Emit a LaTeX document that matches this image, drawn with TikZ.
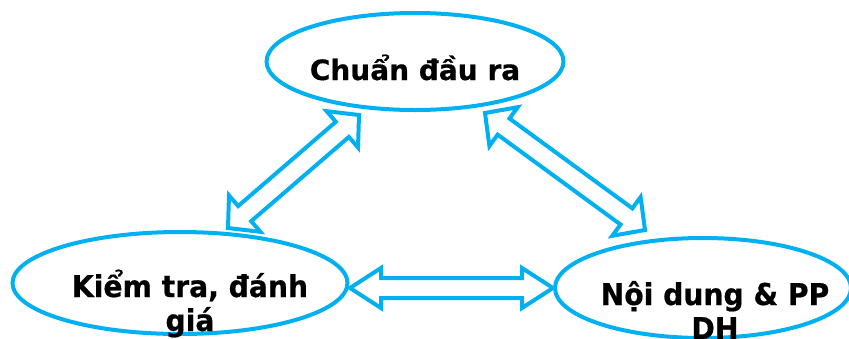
\documentclass[tikz,border=0pt]{standalone}
\usepackage{fontspec}
\setmainfont{DejaVu Sans}[BoldFeatures={FakeBold=0.6}]
\newfontfamily\narrowbold{DejaVu Sans Bold}[FakeStretch=0.94,FakeBold=0.6]
\usetikzlibrary{shapes.geometric,calc}
\definecolor{skyb}{HTML}{00B0F0}
\tikzset{
  ell/.style={draw=skyb, line width=4pt, ellipse, inner sep=0pt, fill=white},
  lbl/.style={font=\fontsize{28}{34}\selectfont\bfseries, align=center, anchor=base, inner sep=0pt},
  lblb/.style={font=\fontsize{30}{34}\narrowbold, align=center, anchor=base, inner sep=0pt},
  arrowline/.style={draw=skyb, line width=4pt, line join=miter, fill=white}
}
\newcommand\hollowarrow[5]{%
  \coordinate (ha1) at ($(#1)!#3!(#2)$);
  \coordinate (ha2) at ($(#2)!#3!(#1)$);
  \draw[arrowline] (#1) -- ($(ha1)!#4!90:(#2)$) -- ($(ha1)!#5!90:(#2)$)
    -- ($(ha2)!#5!-90:(#1)$) -- ($(ha2)!#4!-90:(#1)$) -- (#2)
    -- ($(ha2)!#4!90:(#1)$) -- ($(ha2)!#5!90:(#1)$)
    -- ($(ha1)!#5!-90:(#2)$) -- ($(ha1)!#4!-90:(#2)$) -- cycle;}
\begin{document}
\begin{tikzpicture}[x=1pt,y=-1pt]
\useasboundingbox (0,0) rectangle (849,338);
\node[ell, minimum width=297pt, minimum height=97pt] (cdr) at (415,61.5) {};
\node[ell, minimum width=335pt, minimum height=102pt] (kt) at (180,283) {};
\node[ell, minimum width=296pt, minimum height=100pt] (nd) at (703,288) {};
\node[lbl] (tcdr) at (415,80) {Chuẩn đầu ra};
\node[lblb] (tkt) at (190,331) {Kiểm tra, đánh\\giá};
\node[lblb] (tnd) at (715,339) {Nội dung \& PP\\DH};
\coordinate (a1) at (228,228);
\coordinate (a2) at (359,115);
\coordinate (b1) at (485,113);
\coordinate (b2) at (645,230);
\coordinate (c1) at (350,288);
\coordinate (c2) at (553,288);
\hollowarrow{a1}{a2}{22pt}{24pt}{10pt}
\hollowarrow{b1}{b2}{23pt}{24pt}{10pt}
\hollowarrow{c1}{c2}{31pt}{20pt}{10pt}
\end{tikzpicture}
\end{document}
